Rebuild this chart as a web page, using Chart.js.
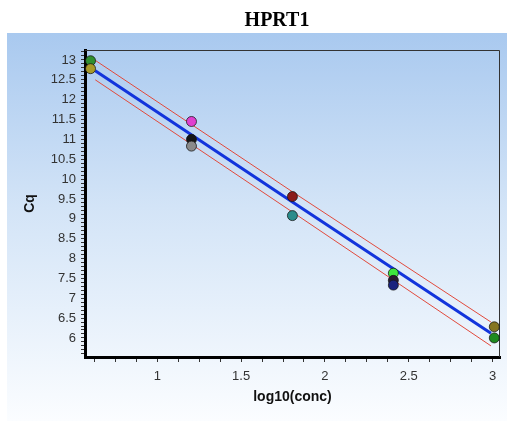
<!DOCTYPE html>
<html>
<head>
<meta charset="utf-8">
<script src="https://cdn.jsdelivr.net/npm/chart.js@4/dist/chart.umd.min.js"></script>
<style>
  html, body { margin: 0; padding: 0; background: #fff; }
  canvas { display: block; }
</style>
</head>
<body>
<canvas id="stdCurve" width="507" height="421"></canvas>
<script>
// values
const chartTitle = 'HPRT1';
const xTitle = 'log10(conc)';
const yTitle = 'Cq';

// standards: log10 concentration and measured Cq
const logConc = [0.602, 0.602, 1.204, 1.204, 1.204, 1.806, 1.806, 2.408, 2.408, 2.408, 3.01, 3.01];
const cqValues = [12.98, 12.78, 11.45, 11.0, 10.83, 9.56, 9.08, 7.63, 7.45, 7.33, 6.28, 6.0];
const pointColors = ['#2f8f2f', '#a89a28', '#e040d0', '#151515', '#8a8a8a', '#8b1a1a',
                     '#2a8c8c', '#3ee63e', '#2a1a30', '#1a237e', '#857520', '#1f8a1f'];

// regression line and its band
const fitX = [0.63, 1.806, 2.99];
const fitCq = [12.73, 9.42, 6.12];
const upperCq = [12.99, 9.68, 6.40];
const lowerCq = [12.50, 9.17, 5.80];

const xTickLabels = [1, 1.5, 2, 2.5, 3];
const yTickLabels = [6, 6.5, 7, 7.5, 8, 8.5, 9, 9.5, 10, 10.5, 11, 11.5, 12, 12.5, 13];

function toPoints(xs, ys) {
    return xs.map((x, i) => ({ x: x, y: ys[i] }));
}

function isLabelled(value, list) {
    return list.some(v => Math.abs(v - value) < 1e-6);
}

// white title strip, blue-to-white wash behind the chart
const backdrop = {
    id: 'backdrop',
    beforeDraw(chart) {
        const ctx = chart.ctx;
        ctx.save();
        ctx.fillStyle = '#ffffff';
        ctx.fillRect(0, 0, chart.width, chart.height);
        const g = ctx.createLinearGradient(0, 33, 0, chart.height);
        g.addColorStop(0, '#a9c9ef');
        g.addColorStop(0.45, '#d3e4f7');
        g.addColorStop(1, '#fbfdff');
        ctx.fillStyle = g;
        ctx.fillRect(7, 33, chart.width - 7, chart.height - 33);
        ctx.restore();
    },
    beforeDatasetsDraw(chart) {
        const { ctx, chartArea } = chart;
        ctx.save();
        ctx.strokeStyle = '#333';
        ctx.lineWidth = 1;
        ctx.beginPath();
        ctx.moveTo(chartArea.left, chartArea.top + 0.5);
        ctx.lineTo(chartArea.right - 0.5, chartArea.top + 0.5);
        ctx.lineTo(chartArea.right - 0.5, chartArea.bottom);
        ctx.stroke();
        ctx.restore();
    },
    afterDraw(chart) {
        const ctx = chart.ctx;
        ctx.save();
        ctx.fillStyle = '#000';
        ctx.font = 'bold 20px "Liberation Serif", "Times New Roman", serif';
        ctx.textAlign = 'center';
        ctx.textBaseline = 'middle';
        ctx.fillText(chartTitle, 277, 21);
        ctx.restore();
    }
};

const tickFont = { family: '"Liberation Sans", Arial, sans-serif', size: 13 };
const titleFont = { family: '"Liberation Sans", Arial, sans-serif', size: 14, weight: 'bold' };

new Chart(document.getElementById('stdCurve'), {
    type: 'scatter',
    data: {
        datasets: [
            {
                label: 'Standards',
                data: toPoints(logConc, cqValues),
                backgroundColor: pointColors,
                borderColor: 'rgba(20,20,20,0.75)',
                borderWidth: 1,
                pointRadius: 5,
                order: 0
            },
            {
                label: 'Fit',
                data: toPoints(fitX, fitCq),
                showLine: true,
                borderColor: '#1234dc',
                borderWidth: 3,
                pointRadius: 0,
                order: 1
            },
            {
                label: 'Upper',
                data: toPoints(fitX, upperCq),
                showLine: true,
                borderColor: '#e24a3c',
                borderWidth: 1,
                pointRadius: 0,
                order: 2
            },
            {
                label: 'Lower',
                data: toPoints(fitX, lowerCq),
                showLine: true,
                borderColor: '#e24a3c',
                borderWidth: 1,
                pointRadius: 0,
                order: 2
            }
        ]
    },
    options: {
        responsive: false,
        animation: false,
        layout: { padding: { top: 50, right: 7, left: 0, bottom: 0 } },
        plugins: {
            legend: { display: false },
            tooltip: { enabled: false },
            title: { display: false }
        },
        scales: {
            x: {
                type: 'linear',
                min: 0.569,
                max: 3.044,
                afterFit: scale => { scale.height = 64; },
                grid: { drawOnChartArea: false, drawTicks: true, tickLength: 5, color: '#333' },
                border: { display: true, color: '#000', width: 3 },
                ticks: {
                    stepSize: 0.125,
                    autoSkip: false,
                    includeBounds: false,
                    maxRotation: 0,
                    padding: 7,
                    color: '#333',
                    font: tickFont,
                    callback: v => isLabelled(v, xTickLabels) ? String(Math.round(v * 10) / 10) : ''
                },
                title: {
                    display: true,
                    text: xTitle,
                    color: '#111',
                    font: titleFont,
                    padding: { top: 0, bottom: 15 }
                }
            },
            y: {
                type: 'linear',
                min: 5.52,
                max: 13.25,
                afterFit: scale => { scale.width = 85; },
                grid: { drawOnChartArea: false, drawTicks: true, tickLength: 4, color: '#333' },
                border: { display: true, color: '#000', width: 3 },
                ticks: {
                    stepSize: 0.1,
                    autoSkip: false,
                    includeBounds: false,
                    padding: 5,
                    color: '#333',
                    font: tickFont,
                    callback: v => isLabelled(v, yTickLabels) ? String(Math.round(v * 10) / 10) : ''
                },
                title: {
                    display: true,
                    text: yTitle,
                    color: '#111',
                    font: titleFont,
                    padding: { top: 22, bottom: 0 }
                }
            }
        }
    },
    plugins: [backdrop]
});
</script>
</body>
</html>
